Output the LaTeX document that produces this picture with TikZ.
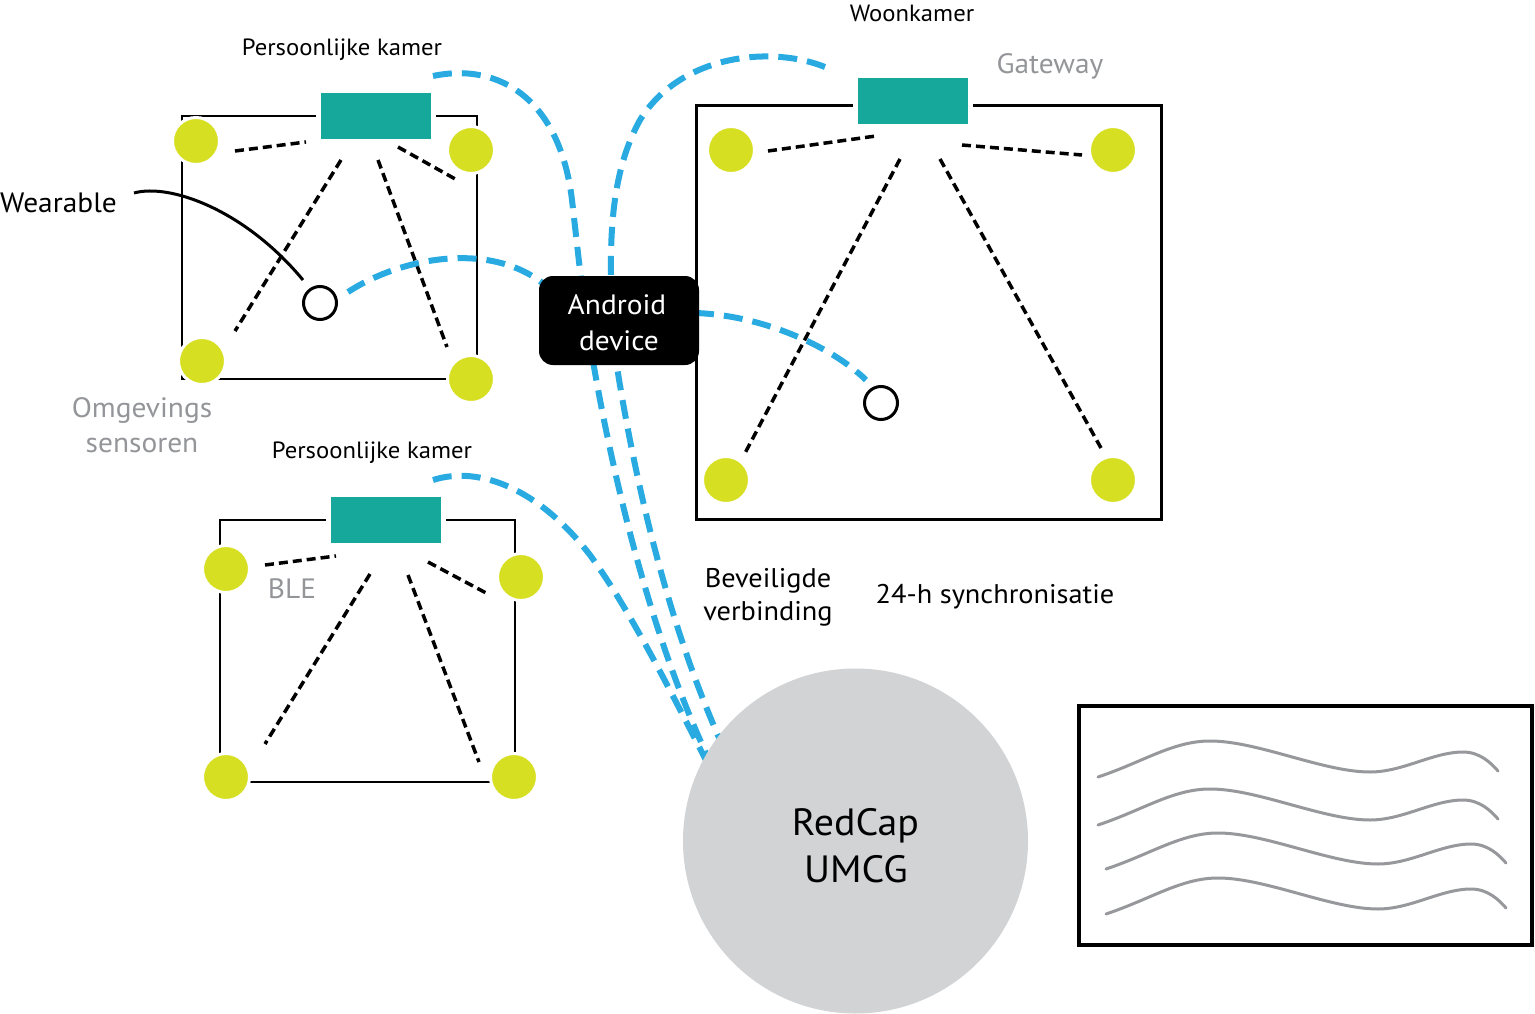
\documentclass[tikz,border=0pt]{standalone}
\usepackage{fontspec}
\setmainfont{PT Sans}[FakeStretch=1.05]
\usetikzlibrary{calc}
\definecolor{teal1}{HTML}{16A99B}
\definecolor{lime1}{HTML}{D7DF23}
\definecolor{blue1}{HTML}{29ABE2}
\definecolor{gtext}{HTML}{939598}
\definecolor{gcircle}{HTML}{D1D3D4}
\definecolor{gwave}{HTML}{97989B}
\begin{document}
\begin{tikzpicture}[x=1pt,y=-1pt,
  room/.style={draw=black,line width=2pt},
  bdash/.style={draw=black,line width=3.5pt,dash pattern=on 9pt off 5pt},
  wifi/.style={draw=blue1,line width=6pt,dash pattern=on 19pt off 10pt},
  sensor/.style={circle,fill=lime1,draw=white,line width=3pt,minimum size=47pt,inner sep=0pt},
  gw/.style={rectangle,fill=teal1,draw=white,line width=5pt,minimum width=115pt,minimum height=51pt,inner sep=0pt},
  wear/.style={circle,draw=black,fill=white,line width=3pt,minimum size=33pt,inner sep=0pt},
  slbl/.style={font=\fontsize{23.5}{27}\selectfont,inner sep=0pt,anchor=base},
  mlbl/.style={font=\fontsize{27}{33}\selectfont,inner sep=0pt,anchor=base},
  glbl/.style={font=\fontsize{28}{33}\selectfont,inner sep=0pt,anchor=base,text=gtext},
  llbl/.style={font=\fontsize{38}{46}\selectfont,inner sep=0pt,anchor=base},
  paperwave/.style={draw=gwave,line width=3pt,line cap=round},
]
\useasboundingbox (0,0) rectangle (1535,1014);

% rooms
\draw[room] (182,116) rectangle (477,379);
\draw[room,line width=3pt] (696,106) rectangle (1161,519);
\draw[room] (220,520) rectangle (515,782);

% BLE dashed links: room A
\coordinate (pa1) at (235,151); \coordinate (qa1) at (306,142);
\coordinate (pa2) at (398,147); \coordinate (qa2) at (457,180);
\coordinate (pa3) at (341,160); \coordinate (qa3) at (235,331);
\coordinate (pa4) at (378,160); \coordinate (qa4) at (447,347);
% Woonkamer
\coordinate (pw1) at (768,151); \coordinate (qw1) at (876,136);
\coordinate (pw2) at (962,145); \coordinate (qw2) at (1082,155);
\coordinate (pw3) at (900,159); \coordinate (qw3) at (744,455);
\coordinate (pw4) at (940,159); \coordinate (qw4) at (1101,448);
% room B
\coordinate (pb1) at (265,565); \coordinate (qb1) at (336,556);
\coordinate (pb2) at (428,562); \coordinate (qb2) at (488,594);
\coordinate (pb3) at (370,574); \coordinate (qb3) at (265,744);
\coordinate (pb4) at (408,575); \coordinate (qb4) at (479,762);
\foreach \p/\q in {pa1/qa1,pa2/qa2,pa3/qa3,pa4/qa4,pw1/qw1,pw2/qw2,pw3/qw3,pw4/qw4,pb1/qb1,pb2/qb2,pb3/qb3,pb4/qb4}
  \draw[bdash] (\p) -- (\q);

% wearable cable
\coordinate (wcs) at (134,193);
\coordinate (wce) at (303,280);
\draw[black,line width=3pt] (wcs) .. controls (170,183) and (245,210) .. (wce);

% blue wireless links
\coordinate (c1s) at (433,76); \coordinate (c1m) at (572,200); \coordinate (c1b) at (594,367); \coordinate (c1e) at (715,772);
\draw[wifi] (c1s) .. controls (500,62) and (560,100) .. (c1m) .. controls (580,270) and (585,320) .. (c1b) .. controls (612,470) and (650,640) .. (c1e);
\coordinate (c2s) at (825,67); \coordinate (c2m) at (640,120); \coordinate (c2n) at (611,280); \coordinate (c2b) at (617,367); \coordinate (c2e) at (735,772);
\draw[wifi] (c2s) .. controls (770,45) and (680,55) .. (c2m) .. controls (615,165) and (610,220) .. (c2n) .. controls (612,320) and (613,340) .. (c2b) .. controls (635,480) and (670,640) .. (c2e);
\coordinate (c3s) at (433,480); \coordinate (c3m) at (590,555); \coordinate (c3e) at (712,772);
\draw[wifi] (c3s) .. controls (480,465) and (540,490) .. (c3m) .. controls (630,610) and (670,690) .. (c3e);
\coordinate (c4s) at (348,292); \coordinate (c4e) at (545,285);
\draw[wifi] (c4s) .. controls (400,258) and (490,240) .. (c4e);
\coordinate (c5s) at (695,313); \coordinate (c5e) at (866,380);
\draw[wifi] (c5s) .. controls (760,315) and (830,345) .. (c5e);

% sensors
\node[sensor] (a1) at (196,141) {};
\node[sensor] (a2) at (471,150) {};
\node[sensor] (a3) at (202,361) {};
\node[sensor] (a4) at (471,379) {};
\node[sensor] (w1) at (731,150) {};
\node[sensor] (w2) at (1113,150) {};
\node[sensor] (w3) at (726,480) {};
\node[sensor] (w4) at (1113,480) {};
\node[sensor] (b1) at (226,569) {};
\node[sensor] (b2) at (521,577) {};
\node[sensor] (b3) at (226,777) {};
\node[sensor] (b4) at (514,777) {};

% wearables
\node[wear] (wA) at (320,303) {};
\node[wear] (wB) at (881,403) {};

% gateways
\node[gw] (gwA) at (376,116) {};
\node[gw] (gwW) at (912.5,101.5) {};
\node[gw] (gwB) at (386,520) {};

% android device
\node[fill=black,rounded corners=14pt,minimum width=160pt,minimum height=89pt,inner sep=0pt] (and) at (619,320.5) {};
\node[font=\fontsize{28}{33}\selectfont,text=white,inner sep=0pt,anchor=base] (andt1) at (617,314) {Android};
\node[font=\fontsize{28}{33}\selectfont,text=white,inner sep=0pt,anchor=base] (andt2) at (619,350) {device};

% RedCap
\node[circle,fill=gcircle,minimum size=345pt,inner sep=0pt] (rc) at (855.5,841) {};
\node[llbl] (rct1) at (855.5,835) {RedCap};
\node[llbl] (rct2) at (856,882) {UMCG};

% paper
\draw[line width=4pt] (1079,706) rectangle (1532,945);
\foreach \sx/\sy in {1098/777,1098/825,1106/869,1106/914}
  \draw[paperwave,shift={(\sx,\sy)}] (0,0) .. controls (45,-15) and (75,-36) .. (112,-36)
     .. controls (160,-36) and (225,-5) .. (272,-5) .. controls (305,-5) and (335,-25) .. (365,-25)
     .. controls (382,-25) and (393,-14) .. (400,-6);

% labels
\node[slbl] (tA) at (342,56) {Persoonlijke kamer};
\node[slbl] (tW) at (912,22) {Woonkamer};
\node[glbl] (tG) at (1050,74) {Gateway};
\node[font=\fontsize{28}{33}\selectfont,inner sep=0pt,anchor=base west] (tWe) at (0,212) {Wearable};
\node[glbl] (tO1) at (142,417) {Omgevings};
\node[glbl] (tO2) at (142,452) {sensoren};
\node[slbl] (tB) at (372,458) {Persoonlijke kamer};
\node[glbl] (tBLE) at (292,598) {BLE};
\node[mlbl] (tV1) at (768,587) {Beveiligde};
\node[mlbl] (tV2) at (768,620) {verbinding};
\node[mlbl] (tS) at (995,603) {24-h synchronisatie};
\end{tikzpicture}
\end{document}
